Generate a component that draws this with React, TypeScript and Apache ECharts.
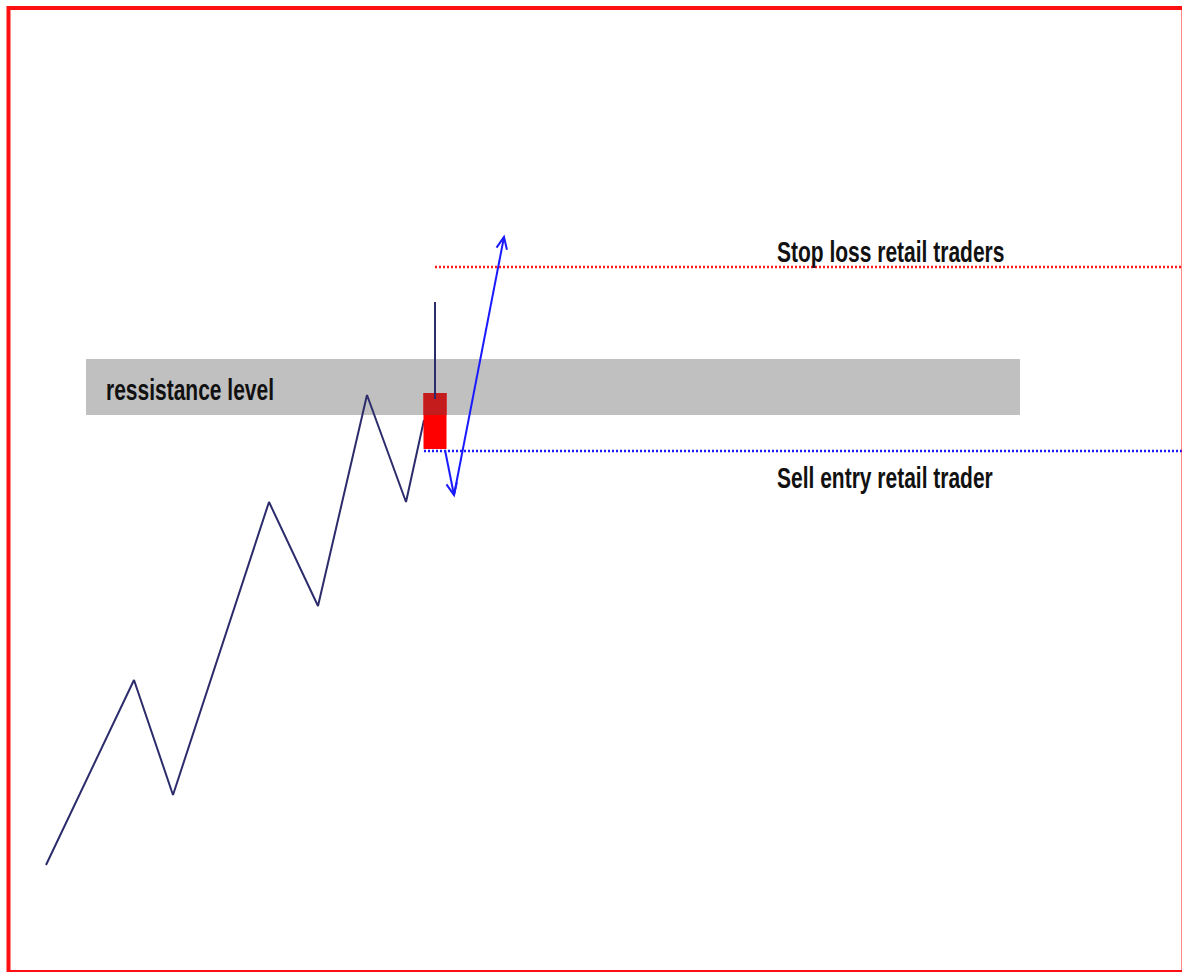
import React, { useEffect, useRef } from "react";
import * as echarts from "echarts";

// Price path (time index, price units)
const trendTime = [46, 134, 173, 269, 318, 367, 406, 424];
const trendPrice = [107, 292, 177, 470, 366, 577, 470, 552];

// Rejection candle [time, open, close, low, high]
const candleTime = [435];
const candleOpen = [579];
const candleClose = [523];
const candleLow = [523];
const candleHigh = [670];
const candleWidth = 23;

// Resistance band [start, end, low, high]
const bandStart = [86];
const bandEnd = [1020];
const bandLow = [557];
const bandHigh = [613];

// Horizontal levels
const levelNames = ["Stop loss", "Sell entry"];
const levelPrice = [705, 521];
const levelStart = [435, 424];
const levelEnd = [1182, 1182];
const levelColor = ["#ff1a1a", "#1a1aff"];

// Fake-out move (arrows)
const moveTime = [445, 454, 504];
const movePrice = [522, 477, 735];

// Annotations
const labelText = ["Stop loss retail traders", "Sell entry retail trader", "ressistance level"];
const labelTime = [777, 777, 106];
const labelPrice = [720, 494, 582];

const X_MAX = 1182;
const Y_MAX = 972;

export default function App() {
  const ref = useRef<HTMLDivElement>(null);
  useEffect(() => {
    if (!ref.current) return;
    const chart = echarts.init(ref.current, undefined, { renderer: "svg" });
    const font = '"Liberation Sans", Arial, sans-serif';

    const levelSeries = levelNames.map((name, i) => ({
      type: "line",
      name,
      data: [
        [levelStart[i], levelPrice[i]],
        [levelEnd[i], levelPrice[i]],
      ],
      symbol: "none",
      lineStyle: { color: levelColor[i], width: 2.4, type: [2, 2] },
      z: 3,
    }));

    chart.setOption({
      animation: false,
      grid: { left: 0, right: 0, top: 0, bottom: 0 },
      xAxis: { type: "value", min: 0, max: X_MAX, show: false },
      yAxis: { type: "value", min: 0, max: Y_MAX, show: false },
      graphic: [
        {
          type: "rect",
          shape: { x: 8.5, y: 8, width: 1175, height: 964 },
          style: { fill: "none", stroke: "#ff1010", lineWidth: 4 },
          z: 100,
        },
      ],
      series: [
        {
          type: "custom",
          name: "band",
          data: bandStart.map((s, i) => [s, bandEnd[i], bandLow[i], bandHigh[i]]),
          renderItem: (params: any, api: any) => {
            const p1 = api.coord([api.value(0), api.value(3)]);
            const p2 = api.coord([api.value(1), api.value(2)]);
            return {
              type: "rect",
              shape: { x: p1[0], y: p1[1], width: p2[0] - p1[0], height: p2[1] - p1[1] },
              style: { fill: "#c0c0c0" },
            };
          },
          z: 1,
        },
        {
          type: "line",
          name: "trend",
          data: trendTime.map((t, i) => [t, trendPrice[i]]),
          symbol: "none",
          lineStyle: { color: "#2c2c6c", width: 2 },
          z: 2,
        },
        {
          type: "custom",
          name: "candle",
          data: candleTime.map((t, i) => [t, candleOpen[i], candleClose[i], candleLow[i], candleHigh[i]]),
          renderItem: (params: any, api: any) => {
            const t = api.value(0);
            const o = api.value(1);
            const c = api.value(2);
            const hi = api.value(4);
            const w = api.size([candleWidth, 0])[0];
            const top = api.coord([t, Math.max(o, c)]);
            const bot = api.coord([t, Math.min(o, c)]);
            const wickTop = api.coord([t, hi]);
            const children: any[] = [
              {
                type: "rect",
                shape: { x: top[0] - w / 2, y: top[1], width: w, height: bot[1] - top[1] },
                style: { fill: "#ff0000" },
              },
            ];
            const ovHi = Math.min(Math.max(o, c), bandHigh[0]);
            const ovLo = Math.max(Math.min(o, c), bandLow[0]);
            if (ovHi > ovLo) {
              const a = api.coord([t, ovHi]);
              const b = api.coord([t, ovLo]);
              children.push({
                type: "rect",
                shape: { x: a[0] - w / 2, y: a[1], width: w, height: b[1] - a[1] },
                style: { fill: "#c41c1c" },
              });
            }
            children.push({
              type: "line",
              shape: { x1: wickTop[0], y1: wickTop[1], x2: wickTop[0], y2: top[1] + 6 },
              style: { stroke: "#2c2c6c", lineWidth: 2 },
            });
            return { type: "group", children };
          },
          z: 4,
        },
        {
          type: "custom",
          name: "move",
          data: moveTime.map((t, i) => [t, movePrice[i]]),
          renderItem: (params: any, api: any) => {
            const i = params.dataIndex;
            if (i === 0) return null;
            const s = api.coord([moveTime[i - 1], movePrice[i - 1]]);
            const e = api.coord([api.value(0), api.value(1)]);
            const dx = e[0] - s[0];
            const dy = e[1] - s[1];
            const len = Math.hypot(dx, dy);
            const ux = dx / len;
            const uy = dy / len;
            const L = 13;
            const ang = 0.42;
            const rot = (a: number) => [
              e[0] - L * (ux * Math.cos(a) - uy * Math.sin(a)),
              e[1] - L * (ux * Math.sin(a) + uy * Math.cos(a)),
            ];
            return {
              type: "group",
              children: [
                {
                  type: "line",
                  shape: { x1: s[0], y1: s[1], x2: e[0], y2: e[1] },
                  style: { stroke: "#1a1aff", lineWidth: 2 },
                },
                {
                  type: "polyline",
                  shape: { points: [rot(ang), e, rot(-ang)] },
                  style: { stroke: "#1a1aff", lineWidth: 2, fill: "none" },
                },
              ],
            };
          },
          z: 5,
        },
        ...levelSeries,
        {
          type: "custom",
          name: "labels",
          data: labelTime.map((t, i) => ({ value: [t, labelPrice[i]], name: labelText[i] })),
          renderItem: (params: any, api: any) => {
            const p = api.coord([api.value(0), api.value(1)]);
            return {
              type: "text",
              x: p[0],
              y: p[1],
              scaleX: 0.7,
              style: {
                text: labelText[params.dataIndex],
                fill: "#111111",
                font: `bold 30px ${font}`,
                align: "left",
                verticalAlign: "middle",
              },
            };
          },
          z: 10,
        },
      ],
    });
    return () => chart.dispose();
  }, []);
  return (
    <div
      ref={ref}
      style={{ position: "fixed", left: 0, top: 0, width: 1182, height: 972, background: "#fff" }}
    />
  );
}
